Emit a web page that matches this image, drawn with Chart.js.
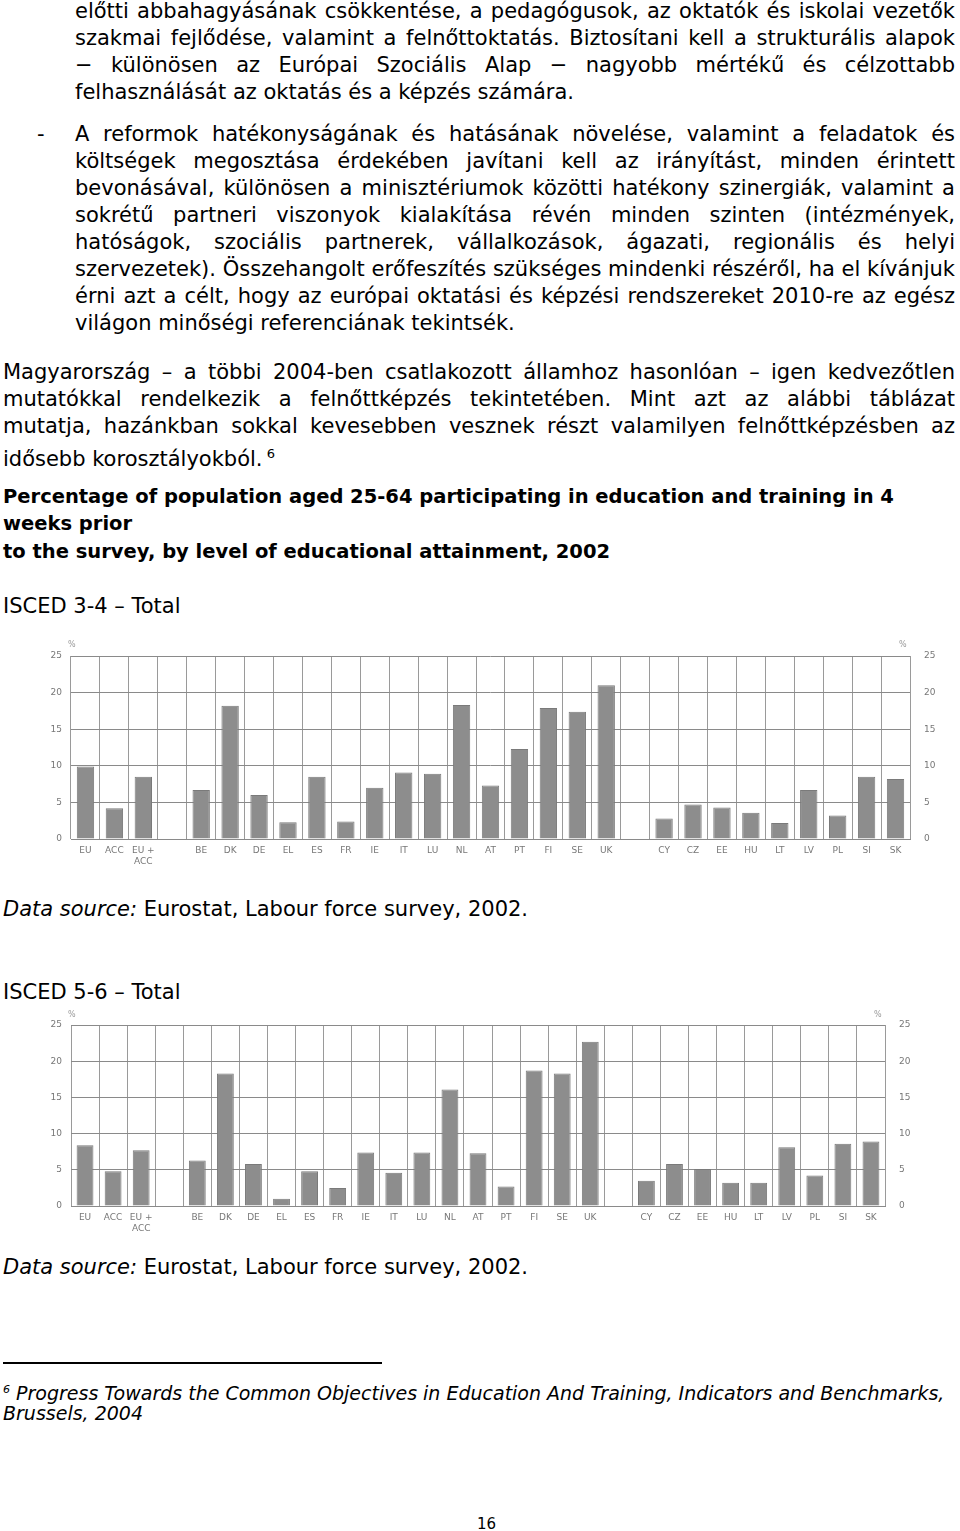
<!DOCTYPE html>
<html>
<head>
<meta charset="utf-8">
<script src="https://cdn.jsdelivr.net/npm/chart.js@4.4.0/dist/chart.umd.min.js"></script>
<style>
  html, body { margin: 0; padding: 0; background: #fff; }
  body { width: 960px; height: 1531px; position: relative; overflow: hidden;
         font-family: "DejaVu Sans", sans-serif; font-size: 21px; color: #000; }
  .ln { position: absolute; line-height: 27px; white-space: nowrap; }
  .j { text-align: justify; text-align-last: justify; }
  .b { font-weight: bold; font-size: 19.5px; }
  .fn { font-style: italic; font-size: 19px; }
  .pct { position: absolute; font-size: 8px; color: #999; }
  .chartbox { position: absolute; left: 0; width: 960px; height: 250px; }
</style>
</head>
<body>

<div class="ln j" style="left:75px;width:880px;top:-2px">előtti abbahagyásának csökkentése, a pedagógusok, az oktatók és iskolai vezetők</div>
<div class="ln j" style="left:75px;width:880px;top:25px">szakmai fejlődése, valamint a felnőttoktatás. Biztosítani kell a strukturális alapok</div>
<div class="ln j" style="left:75px;width:880px;top:52px">− különösen az Európai Szociális Alap − nagyobb mértékű és célzottabb</div>
<div class="ln" style="left:75px;top:79px">felhasználását az oktatás és a képzés számára.</div>

<div class="ln" style="left:37px;top:121px">-</div>
<div class="ln j" style="left:75px;width:880px;top:121px">A reformok hatékonyságának és hatásának növelése, valamint a feladatok és</div>
<div class="ln j" style="left:75px;width:880px;top:148px">költségek megosztása érdekében javítani kell az irányítást, minden érintett</div>
<div class="ln j" style="left:75px;width:880px;top:175px">bevonásával, különösen a minisztériumok közötti hatékony szinergiák, valamint a</div>
<div class="ln j" style="left:75px;width:880px;top:202px">sokrétű partneri viszonyok kialakítása révén minden szinten (intézmények,</div>
<div class="ln j" style="left:75px;width:880px;top:229px">hatóságok, szociális partnerek, vállalkozások, ágazati, regionális és helyi</div>
<div class="ln j" style="left:75px;width:880px;top:256px">szervezetek). Összehangolt erőfeszítés szükséges mindenki részéről, ha el kívánjuk</div>
<div class="ln j" style="left:75px;width:880px;top:283px">érni azt a célt, hogy az európai oktatási és képzési rendszereket 2010-re az egész</div>
<div class="ln" style="left:75px;top:310px">világon minőségi referenciának tekintsék.</div>

<div class="ln j" style="left:3px;width:952px;top:359px">Magyarország – a többi 2004-ben csatlakozott államhoz hasonlóan – igen kedvezőtlen</div>
<div class="ln j" style="left:3px;width:952px;top:386px">mutatókkal rendelkezik a felnőttképzés tekintetében. Mint azt az alábbi táblázat</div>
<div class="ln j" style="left:3px;width:952px;top:413px">mutatja, hazánkban sokkal kevesebben vesznek részt valamilyen felnőttképzésben az</div>
<div class="ln" style="left:3px;top:440px">idősebb korosztályokból.<sup style="font-size:13px"> 6</sup></div>

<div class="ln b" style="left:3px;top:483px">Percentage of population aged 25-64 participating in education and training in 4</div>
<div class="ln b" style="left:3px;top:510px">weeks prior</div>
<div class="ln b" style="left:3px;top:538px">to the survey, by level of educational attainment, 2002</div>

<div class="ln" style="left:3px;top:593px">ISCED 3-4 – Total</div>
<div class="chartbox" style="top:630px"><canvas id="chart1"></canvas></div>
<div class="pct" style="left:68px;top:640px">%</div>
<div class="pct" style="left:899px;top:640px">%</div>
<div class="ln" style="left:3px;top:896px"><i>Data source:</i> Eurostat, Labour force survey, 2002.</div>

<div class="ln" style="left:3px;top:979px">ISCED 5-6 – Total</div>
<div class="chartbox" style="top:1000px"><canvas id="chart2"></canvas></div>
<div class="pct" style="left:68px;top:1010px">%</div>
<div class="pct" style="left:874px;top:1010px">%</div>
<div class="ln" style="left:3px;top:1254px"><i>Data source:</i> Eurostat, Labour force survey, 2002.</div>

<div style="position:absolute;left:3px;top:1362px;width:379px;height:2px;background:#000"></div>
<div class="ln fn" style="left:3px;top:1376px"><sup style="font-size:11px">6</sup> Progress Towards the Common Objectives in Education And Training, Indicators and Benchmarks,</div>
<div class="ln fn" style="left:3px;top:1400px">Brussels, 2004</div>
<div class="ln" style="left:477px;top:1511px;font-size:15px">16</div>

<script>
var categories = ['EU', 'ACC', ['EU +', 'ACC'], '', 'BE', 'DK', 'DE', 'EL', 'ES', 'FR', 'IE', 'IT', 'LU', 'NL', 'AT', 'PT', 'FI', 'SE', 'UK', '', 'CY', 'CZ', 'EE', 'HU', 'LT', 'LV', 'PL', 'SI', 'SK'];
var isced34 = [9.9, 4.2, 8.5, null, 6.7, 18.2, 6.0, 2.3, 8.5, 2.4, 7.0, 9.1, 8.9, 18.3, 7.3, 12.3, 17.9, 17.4, 21.0, null, 2.8, 4.7, 4.3, 3.6, 2.2, 6.7, 3.2, 8.5, 8.2];
var isced56 = [8.4, 4.8, 7.7, null, 6.3, 18.3, 5.8, 1.0, 4.8, 2.5, 7.4, 4.6, 7.4, 16.1, 7.3, 2.7, 18.7, 18.3, 22.7, null, 3.5, 5.8, 5.1, 3.2, 3.2, 8.1, 4.2, 8.6, 8.9];
var yTicks = [0, 5, 10, 15, 20, 25];

function makeChart(id, values, padTop, leftW, rightW, bottomH) {
    var ctx = document.getElementById(id).getContext('2d');
    var tickFont = { family: 'DejaVu Sans', size: 9 };
    return new Chart(ctx, {
        type: 'bar',
        data: {
            labels: categories,
            datasets: [{
                data: values,
                backgroundColor: '#8d8d8d',
                borderColor: '#7a7a7a',
                borderWidth: 1,
                categoryPercentage: 1.0,
                barPercentage: 0.6,
                yAxisID: 'y'
            }]
        },
        options: {
            responsive: true,
            maintainAspectRatio: false,
            animation: false,
            layout: { padding: { top: padTop, left: 0, right: 0, bottom: 0 } },
            scales: {
                x: {
                    offset: true,
                    grid: { offset: true, color: '#9a9a9a', drawTicks: false },
                    border: { color: '#8a8a8a' },
                    ticks: { color: '#777', font: tickFont, padding: 6, maxRotation: 0, autoSkip: false },
                    afterFit: function (scale) { scale.height = bottomH; }
                },
                y: {
                    position: 'left',
                    min: 0, max: 25,
                    afterBuildTicks: function (scale) { scale.ticks = yTicks.map(function (v) { return { value: v }; }); },
                    grid: { color: '#8a8a8a', drawTicks: false },
                    border: { display: false },
                    ticks: { color: '#777', font: tickFont, padding: 9 },
                    afterFit: function (scale) { scale.width = leftW; }
                },
                y2: {
                    display: true,
                    position: 'right',
                    min: 0, max: 25,
                    afterBuildTicks: function (scale) { scale.ticks = yTicks.map(function (v) { return { value: v }; }); },
                    grid: { display: false },
                    border: { display: false },
                    ticks: { color: '#777', font: tickFont, padding: 6 },
                    afterFit: function (scale) { scale.width = rightW; }
                }
            },
            plugins: {
                legend: { display: false },
                tooltip: { enabled: false }
            }
        }
    });
}

makeChart('chart1', isced34, 26, 71, 50, 41);
makeChart('chart2', isced56, 25, 71, 75, 44);
</script>
</body>
</html>
